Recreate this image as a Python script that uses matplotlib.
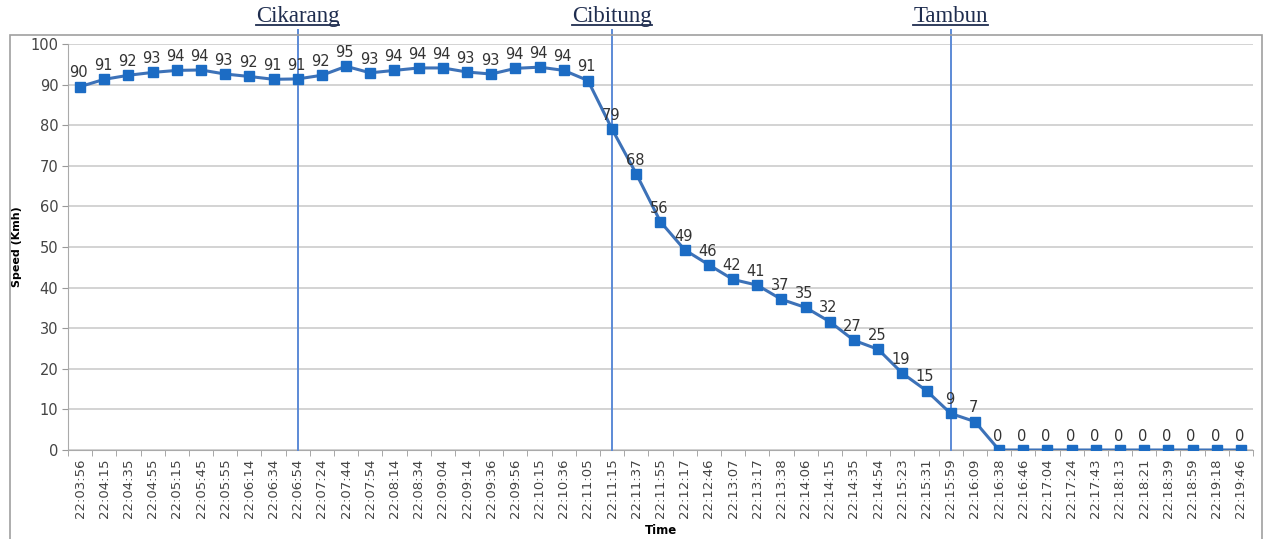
import matplotlib
matplotlib.use("Agg")
import matplotlib.pyplot as plt
from matplotlib.patches import Rectangle
from matplotlib.lines import Line2D
import numpy as np

times = ["22:03:56", "22:04:15", "22:04:35", "22:04:55", "22:05:15", "22:05:45", "22:05:55",
         "22:06:14", "22:06:34", "22:06:54", "22:07:24", "22:07:44", "22:07:54", "22:08:14",
         "22:08:34", "22:09:04", "22:09:14", "22:09:36", "22:09:56", "22:10:15", "22:10:36",
         "22:11:05", "22:11:15", "22:11:37", "22:11:55", "22:12:17", "22:12:46", "22:13:07",
         "22:13:17", "22:13:38", "22:14:06", "22:14:15", "22:14:35", "22:14:54", "22:15:23",
         "22:15:31", "22:15:59", "22:16:09", "22:16:38", "22:16:46", "22:17:04", "22:17:24",
         "22:17:43", "22:18:13", "22:18:21", "22:18:39", "22:18:59", "22:19:18", "22:19:46"]
speed = [89.5, 91.3, 92.3, 93.0, 93.5, 93.6, 92.6, 92.0, 91.3, 91.4, 92.3, 94.5, 92.9, 93.5,
         94.1, 94.1, 93.1, 92.6, 94.0, 94.3, 93.5, 91.0, 79.0, 68.0, 56.2, 49.3, 45.6, 42.0,
         40.6, 37.1, 35.1, 31.6, 27.0, 24.8, 18.9, 14.6, 9.0, 7.0, 0, 0, 0, 0, 0, 0, 0, 0, 0, 0, 0]
labels = [90, 91, 92, 93, 94, 94, 93, 92, 91, 91, 92, 95, 93, 94, 94, 94, 93, 93, 94, 94, 94,
          91, 79, 68, 56, 49, 46, 42, 41, 37, 35, 32, 27, 25, 19, 15, 9, 7,
          0, 0, 0, 0, 0, 0, 0, 0, 0, 0, 0]
stations = ["Cikarang", "Cibitung", "Tambun"]
station_idx = [9, 22, 36]

W, H = 1264, 539
fig = plt.figure(figsize=(W / 100, H / 100), dpi=100)
ax = fig.add_axes([68 / W, 1 - 450 / H, (1253 - 68) / W, (450 - 44) / H])

x = np.arange(len(times))
ax.plot(x, speed, color="#3d72b8", lw=2.2, marker="s", ms=6.5,
        mfc="#1c6cc4", mec="#1c6cc4", zorder=5)
for xi, yi, lab in zip(x, speed, labels):
    ax.annotate(str(lab), (xi, yi), xytext=(-1, 4.5), textcoords="offset points",
                ha="center", va="bottom", fontsize=10.5, color="#333333", zorder=6)

ax.set_xlim(-0.5, len(times) - 0.5)
ax.set_ylim(0, 100)
ax.set_yticks(np.arange(0, 101, 10))
ax.yaxis.grid(True, color="#c8c8c8", lw=1.1)
ax.set_axisbelow(True)
ax.set_xticks(x)
ax.set_xticklabels(times, rotation=90, fontsize=9.5, color="#444444")
ax.set_xticks(np.arange(-0.5, len(times), 1), minor=True)
ax.tick_params(axis="x", which="major", length=0, pad=6)
ax.tick_params(axis="x", which="minor", length=4, color="#999999")
ax.tick_params(axis="y", length=4, color="#999999", labelsize=10.5, labelcolor="#444444", pad=3)
for s in ["top", "right"]:
    ax.spines[s].set_visible(False)
ax.spines["left"].set_color("#aaaaaa")
ax.spines["bottom"].set_color("#aaaaaa")

ax.set_ylabel("Speed (Kmh)", fontsize=8, fontweight="bold", labelpad=14)
ax.set_xlabel("Time", fontsize=8.5, fontweight="bold", labelpad=2)
ax.xaxis.set_label_coords((661 - 68) / (1253 - 68), -(524 - 450) / (450 - 44))
ax.yaxis.set_label_coords(-(68 - 22) / (1253 - 68), 0.5)

for name, idx in zip(stations, station_idx):
    ax.plot([idx, idx], [0, 103.5], color="#5c8ad6", lw=1.4, clip_on=False, zorder=4)
    t = ax.text(idx, 104.3, name, ha="center", va="bottom", fontsize=16.5,
                family="Liberation Serif", color="#1f2d4f", clip_on=False)
    fig.canvas.draw()
    bb = t.get_window_extent()
    inv = fig.transFigure.inverted()
    (x0, y0), (x1, y1) = inv.transform([[bb.x0, bb.y0], [bb.x1, bb.y1]])
    fig.add_artist(Line2D([x0, x1], [y0 + 0.003, y0 + 0.003], color="#1f2d4f", lw=1.3))

fig.add_artist(Rectangle((10 / W, -0.01), (1262 - 10) / W, 1 - 35 / H + 0.01,
                         fill=False, edgecolor="#a0a0a0", lw=1.2, transform=fig.transFigure))

fig.savefig("out.png", dpi=100)
